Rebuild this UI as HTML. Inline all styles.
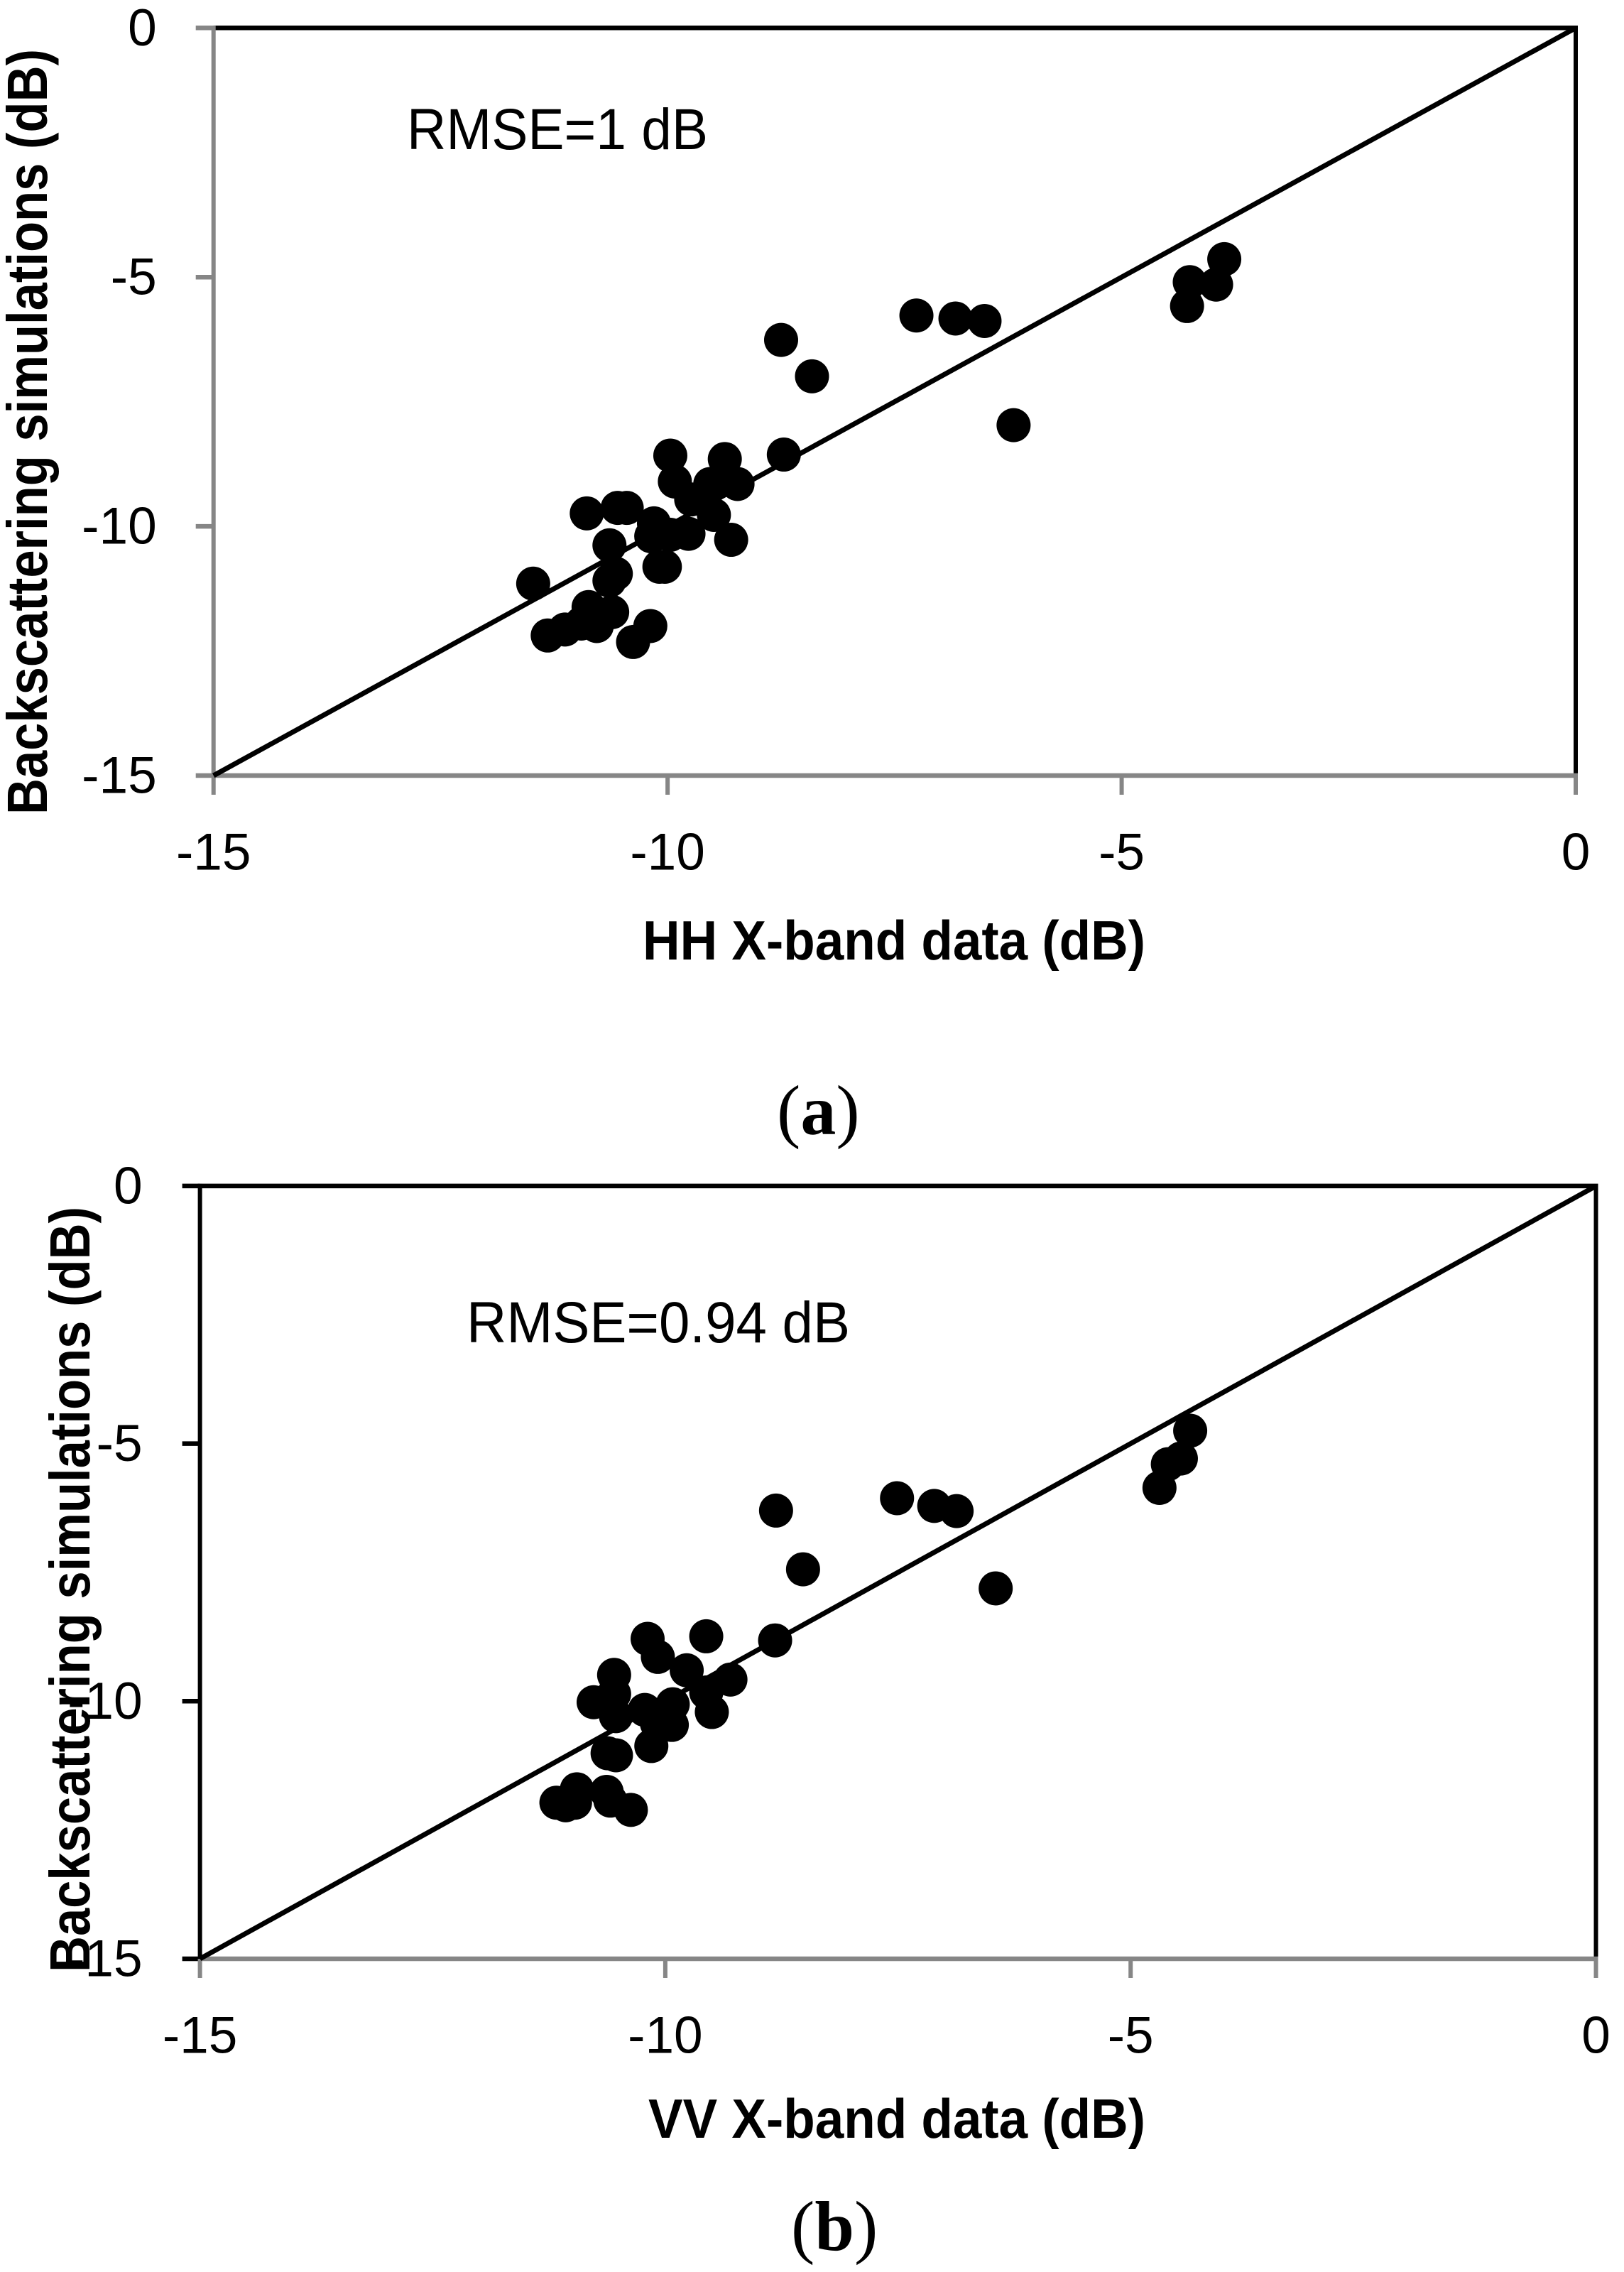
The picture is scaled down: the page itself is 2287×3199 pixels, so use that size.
<!DOCTYPE html>
<html lang="en">
<head>
<meta charset="utf-8">
<title>Backscattering simulations vs X-band data</title>
<style>
  html, body { margin: 0; padding: 0; background: #fff; }
  svg { display: block; }
  text { fill: #000; }
  .tick { font-family: "Liberation Sans", sans-serif; font-size: 73px; }
  .note { font-family: "Liberation Sans", sans-serif; font-size: 82px; }
  .x-title { font-family: "Liberation Sans", sans-serif; font-size: 78px; font-weight: bold; }
  .y-title { font-family: "Liberation Sans", sans-serif; font-size: 80px; font-weight: bold; }
  .caption { font-family: "Liberation Serif", serif; font-size: 100px; }
</style>
</head>
<body>
<svg id="figure" xmlns="http://www.w3.org/2000/svg" width="2287" height="3199" viewBox="0 0 2287 3199">
  <rect width="2287" height="3199" fill="#fff"/>

  <g id="chart-a"></g>
  <g id="chart-b"></g>

  <text class="note" x="573" y="210" textLength="424" lengthAdjust="spacingAndGlyphs">RMSE=1 dB</text>
  <text class="x-title" x="905" y="1351" textLength="708" lengthAdjust="spacingAndGlyphs">HH X-band data (dB)</text>
  <text class="y-title" x="66" y="1147" transform="rotate(-90 66 1147)" textLength="1078" lengthAdjust="spacingAndGlyphs">Backscattering simulations (dB)</text>
  <text class="caption" x="1094" y="1597">(<tspan font-weight="bold">a</tspan>)</text>

  <text class="note" x="657" y="1890" textLength="540" lengthAdjust="spacingAndGlyphs">RMSE=0.94 dB</text>
  <text class="x-title" x="913" y="3010" textLength="700" lengthAdjust="spacingAndGlyphs">VV X-band data (dB)</text>
  <text class="y-title" x="126" y="2777" transform="rotate(-90 126 2777)" textLength="1078" lengthAdjust="spacingAndGlyphs">Backscattering simulations (dB)</text>
  <text class="caption" x="1114" y="3168">(<tspan font-weight="bold">b</tspan>)</text>
</svg>

<script>
// Axis ticks shared by both panels
const xTickValues = [-15, -10, -5, 0];
const yTickValues = [0, -5, -10, -15];
const xTickLabels = ['-15', '-10', '-5', '0'];
const yTickLabels = ['0', '-5', '-10', '-15'];

// 1:1 reference line
const referenceLineX = [-15, 0];
const referenceLineY = [-15, 0];

// Panel (a): HH X-band data vs simulations (dB)
const hhData = [-7.26, -6.83, -6.51, -6.19, -3.87, -4.25, -3.96, -4.28, -8.75, -8.41,
  -8.72, -9.97, -9.37, -9.23, -9.92, -9.53, -9.74, -9.49, -9.30, -9.77,
  -9.97, -10.15, -10.89, -10.55, -10.45, -10.64, -10.18, -10.09, -10.03, -10.64,
  -10.57, -11.48, -10.87, -10.61, -10.78, -10.95, -11.13, -11.32, -10.19, -10.38];
const hhSimulations = [-5.77, -5.83, -5.88, -7.97, -4.64, -5.10, -5.15, -5.58, -6.26, -6.99,
  -8.56, -8.58, -8.65, -9.15, -9.10, -9.15, -9.46, -9.77, -10.27, -10.15,
  -10.17, -9.94, -9.74, -9.63, -9.63, -10.38, -10.20, -10.81, -10.81, -11.09,
  -10.95, -11.15, -11.62, -11.72, -12.00, -11.95, -12.07, -12.19, -12.00, -12.32];

// Panel (b): VV X-band data vs simulations (dB)
const vvData = [-7.51, -7.11, -6.87, -6.45, -4.36, -4.46, -4.60, -4.69, -8.81, -8.52, -8.82,
  -10.19, -9.56, -10.08, -9.77, -9.30, -10.55, -10.77, -10.55, -10.53, -10.22,
  -9.92, -9.93, -9.50, -9.56, -10.15, -10.09, -10.62, -10.53, -10.95, -11.07,
  -11.17, -10.97, -10.63, -10.59, -10.37];
const vvSimulations = [-6.06, -6.21, -6.31, -7.81, -4.75, -5.29, -5.40, -5.86, -6.30, -7.44, -8.82,
  -8.79, -8.74, -9.14, -9.40, -9.58, -9.49, -10.02, -9.86, -10.29, -10.17,
  -10.06, -10.46, -10.21, -9.83, -10.87, -10.43, -11.01, -11.05, -11.71, -12.02,
  -11.97, -11.97, -11.76, -11.93, -12.11];

const SVG_NS = 'http://www.w3.org/2000/svg';
const GREY = '#868686';
const BLACK = '#000000';

function drawLine(parent, x1, y1, x2, y2, color, width) {
  const el = document.createElementNS(SVG_NS, 'line');
  el.setAttribute('x1', x1);
  el.setAttribute('y1', y1);
  el.setAttribute('x2', x2);
  el.setAttribute('y2', y2);
  el.setAttribute('stroke', color);
  el.setAttribute('stroke-width', width);
  parent.appendChild(el);
  return el;
}

function drawChart(id, xValues, yValues, box) {
  const group = document.getElementById(id);
  const xScale = function (v) { return box.left + (v + 15) / 15 * (box.right - box.left); };
  const yScale = function (v) { return box.top - v / 15 * (box.bottom - box.top); };

  // Frame
  const topEdge = drawLine(group, box.left - 3, box.top, box.right + 3, box.top, BLACK, 6.5);
  
  
  const rightEdge = drawLine(group, box.right, box.top, box.right, box.bottom, BLACK, 6);
  
  
  const yAxis = drawLine(group, box.left, box.top - 3, box.left, box.bottom, box.yAxisColor, 6);
  
  
  const xAxis = drawLine(group, box.left, box.bottom, box.right + 3, box.bottom, GREY, 6.5);
  
  

  // Y ticks and labels
  yTickValues.forEach(function (v, i) {
    const y = yScale(v);
    const tick = drawLine(group, box.left - box.tickLength, y, box.left, y, box.yAxisColor, 6.5);
    
    
    const label = document.createElementNS(SVG_NS, 'text');
    
    
    label.setAttribute('class', 'tick');
    label.setAttribute('x', box.left - box.yLabelGap);
    label.setAttribute('y', y + 24.5);
    label.setAttribute('text-anchor', 'end');
    label.textContent = yTickLabels[i];
    group.appendChild(label);
  });

  // X ticks and labels
  xTickValues.forEach(function (v, i) {
    const x = xScale(v);
    const tick = drawLine(group, x, box.bottom, x, box.bottom + box.tickLength + 2, GREY, 6);
    
    
    const label = document.createElementNS(SVG_NS, 'text');
    
    
    label.setAttribute('class', 'tick');
    label.setAttribute('x', x);
    label.setAttribute('y', box.bottom + 132.5);
    label.setAttribute('text-anchor', 'middle');
    label.textContent = xTickLabels[i];
    group.appendChild(label);
  });

  // 1:1 line
  const refLine = drawLine(group, xScale(referenceLineX[0]), yScale(referenceLineY[0]),
    xScale(referenceLineX[1]), yScale(referenceLineY[1]), BLACK, 7);
  
  

  // Points
  xValues.forEach(function (v, i) {
    const dot = document.createElementNS(SVG_NS, 'ellipse');
    
    
    dot.setAttribute('cx', xScale(v));
    dot.setAttribute('cy', yScale(yValues[i]));
    dot.setAttribute('rx', 24);
    dot.setAttribute('ry', 24);
    dot.setAttribute('fill', BLACK);
    group.appendChild(dot);
  });
}

drawChart('chart-a', hhData, hhSimulations, {
  left: 300.7, right: 2219, top: 39.3, bottom: 1092,
  tickLength: 25, yLabelGap: 80, yAxisColor: GREY
});
drawChart('chart-b', vvData, vvSimulations, {
  left: 281.6, right: 2247.5, top: 1669.9, bottom: 2758,
  tickLength: 25, yLabelGap: 81, yAxisColor: BLACK
});
</script>
</body>
</html>
